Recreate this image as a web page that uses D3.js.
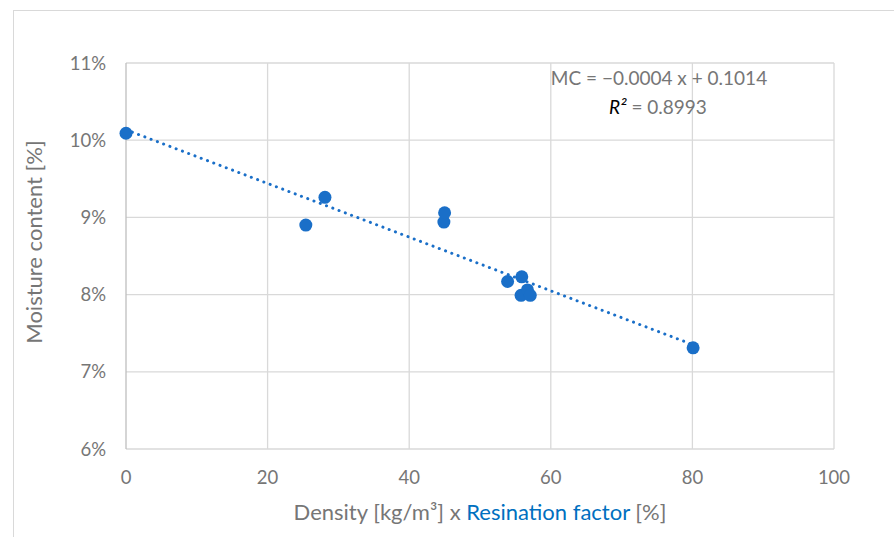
<!DOCTYPE html>
<html>
<head>
<meta charset="utf-8">
<script src="https://cdn.jsdelivr.net/npm/d3@7"></script>
<style>
  body { margin: 0; background: #fff; }
  text { font-family: Lato, "Open Sans", sans-serif; }
</style>
</head>
<body>
<script>
// Data: density x resination factor vs moisture content (%)
var xValues = [0, 25.4, 28.1, 44.9, 45.0, 53.9, 55.9, 55.8, 56.7, 57.1, 80.1];
var yValues = [10.09, 8.90, 9.26, 8.94, 9.06, 8.17, 8.23, 7.99, 8.06, 7.99, 7.31];
var xTicks = [0, 20, 40, 60, 80, 100];
var yTicks = [6, 7, 8, 9, 10, 11];
var equationText = "MC = \u22120.0004 x + 0.1014";
var r2Text = " = 0.8993";

var width = 894, height = 537;
var margin = {top: 63, right: 60, bottom: 88, left: 126};

var svg = d3.select(document.body).append("svg")
  .attr("width", width).attr("height", height);

// Outer chart frame
svg.append("rect")
  .attr("x", 13.5).attr("y", 10.5)
  .attr("width", 900).attr("height", 560)
  .attr("fill", "none").attr("stroke", "#d9d9d9");

var x = d3.scaleLinear().domain([0, 100]).range([margin.left, 834]);
var y = d3.scaleLinear().domain([6, 11]).range([449, margin.top]);

// Gridlines
svg.append("g").selectAll("line")
  .data(xTicks.slice(1))
  .enter().append("line")
  .attr("x1", function(d) { return x(d); }).attr("x2", function(d) { return x(d); })
  .attr("y1", y(11)).attr("y2", y(6))
  .attr("stroke", "#d9d9d9").attr("stroke-width", 1.3);

svg.append("g").selectAll("line")
  .data(yTicks)
  .enter().append("line")
  .attr("x1", x(0)).attr("x2", x(100))
  .attr("y1", function(d) { return y(d); }).attr("y2", function(d) { return y(d); })
  .attr("stroke", "#d9d9d9").attr("stroke-width", 1.3);

// Vertical axis line
svg.append("line")
  .attr("x1", x(0)).attr("x2", x(0))
  .attr("y1", y(11)).attr("y2", y(6))
  .attr("stroke", "#bfbfbf").attr("stroke-width", 1.3);

// Tick labels
svg.append("g").selectAll("text")
  .data(xTicks)
  .enter().append("text")
  .attr("x", function(d) { return x(d); })
  .attr("y", 484)
  .attr("text-anchor", "middle")
  .attr("font-size", 18.5)
  .attr("fill", "#767676")
  .text(function(d) { return d; });

svg.append("g").selectAll("text")
  .data(yTicks)
  .enter().append("text")
  .attr("x", 106)
  .attr("y", function(d) { return y(d) + 6.5; })
  .attr("text-anchor", "end")
  .attr("font-size", 18.5)
  .attr("fill", "#767676")
  .text(function(d) { return d + "%"; });

// Axis titles
svg.append("text")
  .attr("transform", "translate(42," + ((y(11) + y(6)) / 2 - 14) + ") rotate(-90)")
  .attr("text-anchor", "middle")
  .attr("font-size", 22)
  .attr("fill", "#767676")
  .text("Moisture content [%]");

var xTitle = svg.append("text")
  .attr("x", (x(0) + x(100)) / 2)
  .attr("y", 520)
  .attr("text-anchor", "middle")
  .attr("font-size", 22)
  .attr("fill", "#767676");
xTitle.append("tspan").text("Density [kg/m\u00b3] x ");
xTitle.append("tspan").attr("fill", "#0070c0").text("Resination factor");
xTitle.append("tspan").text(" [%]");

// Linear trendline from least squares fit of the data
var mx = d3.mean(xValues), my = d3.mean(yValues);
var sxy = d3.sum(xValues, function(v, i) { return (v - mx) * (yValues[i] - my); });
var sxx = d3.sum(xValues, function(v) { return (v - mx) * (v - mx); });
var slope = sxy / sxx, intercept = my - slope * mx;
var xMin = d3.min(xValues), xMax = d3.max(xValues);

svg.append("line")
  .attr("x1", x(xMin)).attr("y1", y(intercept + slope * xMin))
  .attr("x2", x(xMax)).attr("y2", y(intercept + slope * xMax))
  .attr("stroke", "#1a6fc8")
  .attr("stroke-width", 3)
  .attr("stroke-linecap", "round")
  .attr("stroke-dasharray", "0.1 6.6");

// Points
svg.append("g").selectAll("circle")
  .data(xValues)
  .enter().append("circle")
  .attr("cx", function(d) { return x(d); })
  .attr("cy", function(d, i) { return y(yValues[i]); })
  .attr("r", 6.5)
  .attr("fill", "#1a6fc8");

// Trendline equation label
svg.append("text")
  .attr("x", 659).attr("y", 85)
  .attr("text-anchor", "middle")
  .attr("font-size", 19)
  .attr("fill", "#767676")
  .text(equationText);

var r2 = svg.append("text")
  .attr("x", 658).attr("y", 114)
  .attr("text-anchor", "middle")
  .attr("font-size", 19)
  .attr("fill", "#767676");
r2.append("tspan").attr("fill", "#000").attr("font-style", "italic").text("R\u00b2");
r2.append("tspan").text(r2Text);
</script>
</body>
</html>
